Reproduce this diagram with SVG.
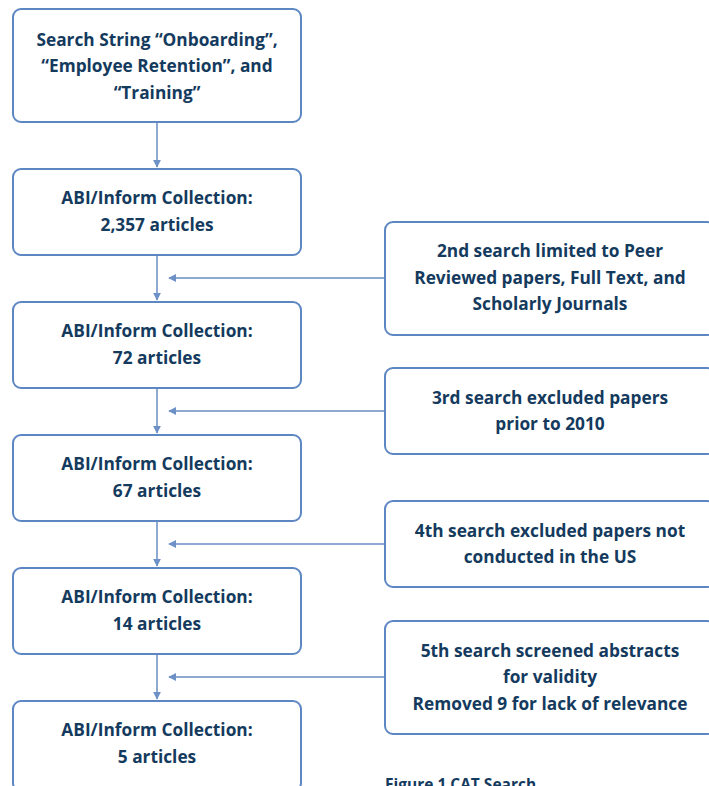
<svg xmlns="http://www.w3.org/2000/svg" width="709" height="786" viewBox="0 0 709 786">
<style>
.box{fill:#fff;stroke:#5d87c2;stroke-width:2}
.t{font-family:"Open Sans","Noto Sans",sans-serif;font-weight:700;font-size:17.3px;fill:#143a5e;text-anchor:middle}
.c{stroke:#8eaad3;stroke-width:2;fill:none}
.cap{font-family:"Open Sans","Noto Sans",sans-serif;font-weight:700;font-size:15.5px;fill:#143a5e}
</style>
<defs>
<marker id="ah" viewBox="0 0 10 10" refX="9" refY="5" markerWidth="4" markerHeight="4" orient="auto"><path d="M0,0L10,5L0,10z" fill="#6d90c6"/></marker>
</defs>
<rect width="709" height="786" fill="#fff"/>
<g id="connectors">
<path class="c" d="M157,123V167" marker-end="url(#ah)"/>
<path class="c" d="M157,256V300" marker-end="url(#ah)"/>
<path class="c" d="M157,389V433" marker-end="url(#ah)"/>
<path class="c" d="M157,522V566" marker-end="url(#ah)"/>
<path class="c" d="M157,655V699" marker-end="url(#ah)"/>
<path class="c" d="M385,278H169" marker-end="url(#ah)"/>
<path class="c" d="M385,411H169" marker-end="url(#ah)"/>
<path class="c" d="M385,544H169" marker-end="url(#ah)"/>
<path class="c" d="M385,677H169" marker-end="url(#ah)"/>
</g>
<g id="n1"><rect class="box" x="13" y="9" width="288" height="113" rx="8"/>
<text class="t" x="157" y="46">Search String “Onboarding”,</text>
<text class="t" x="157" y="72">“Employee Retention”, and</text>
<text class="t" x="157" y="99">“Training”</text></g>
<g id="n2"><rect class="box" x="13" y="169" width="288" height="86" rx="8"/>
<text class="t" x="157" y="204">ABI/Inform Collection:</text>
<text class="t" x="157" y="231">2,357 articles</text></g>
<g id="n3"><rect class="box" x="13" y="302" width="288" height="86" rx="8"/>
<text class="t" x="157" y="337">ABI/Inform Collection:</text>
<text class="t" x="157" y="364">72 articles</text></g>
<g id="n4"><rect class="box" x="13" y="435" width="288" height="86" rx="8"/>
<text class="t" x="157" y="470">ABI/Inform Collection:</text>
<text class="t" x="157" y="497">67 articles</text></g>
<g id="n5"><rect class="box" x="13" y="568" width="288" height="86" rx="8"/>
<text class="t" x="157" y="603">ABI/Inform Collection:</text>
<text class="t" x="157" y="630">14 articles</text></g>
<g id="n6"><rect class="box" x="13" y="701" width="288" height="90" rx="8"/>
<text class="t" x="157" y="736">ABI/Inform Collection:</text>
<text class="t" x="157" y="763">5 articles</text></g>
<g id="s2"><rect class="box" x="385" y="222" width="330" height="113" rx="8"/>
<text class="t" x="550" y="257">2nd search limited to Peer</text>
<text class="t" x="550" y="284">Reviewed papers, Full Text, and</text>
<text class="t" x="550" y="310">Scholarly Journals</text></g>
<g id="s3"><rect class="box" x="385" y="368" width="330" height="86" rx="8"/>
<text class="t" x="550" y="404">3rd search excluded papers</text>
<text class="t" x="550" y="430">prior to 2010</text></g>
<g id="s4"><rect class="box" x="385" y="501" width="330" height="86" rx="8"/>
<text class="t" x="550" y="537">4th search excluded papers not</text>
<text class="t" x="550" y="563">conducted in the US</text></g>
<g id="s5"><rect class="box" x="385" y="621" width="330" height="113" rx="8"/>
<text class="t" x="550" y="657">5th search screened abstracts</text>
<text class="t" x="550" y="683">for validity</text>
<text class="t" x="550" y="710">Removed 9 for lack of relevance</text></g>
<text class="cap" x="385" y="790">Figure 1 CAT Search</text>
</svg>
